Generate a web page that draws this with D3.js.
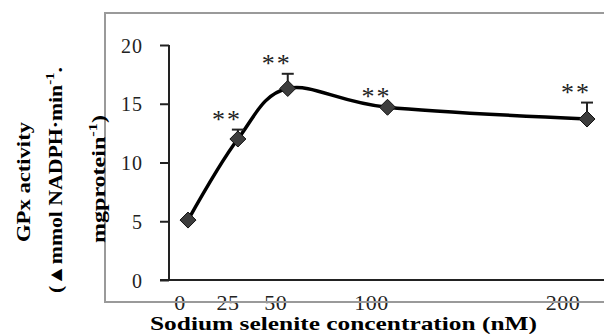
<!DOCTYPE html>
<html><head><meta charset="utf-8">
<script src="https://cdn.jsdelivr.net/npm/d3@7"></script>
<style>html,body{margin:0;padding:0;background:#fff;}svg{display:block;}
text{font-family:"Liberation Serif","Times New Roman","DejaVu Serif",serif;}</style>
</head><body>
<script>
const concentrations = [0, 25, 50, 100, 200];
const gpxActivity = [5.1, 12.0, 16.3, 14.7, 13.7];
const errorPlus = [0.2, 0.8, 1.25, 0.2, 1.4];
const significance = ["", "**", "**", "**", "**"];
const xTickValues = [0, 25, 50, 100, 200];
const yTickValues = [0, 5, 10, 15, 20];
const yTitleLines = ["GPx activity", "(\u25B2mmol NADPH\u00B7min", "mgprotein"];

const W = 604, H = 334;
const svg = d3.select("body").append("svg").attr("width", W).attr("height", H);

const x = d3.scaleLinear().domain([0, 200]).range([188, 587]);
const xLabel = d3.scaleLinear().domain([0, 200]).range([180, 563]);
const y = d3.scaleLinear().domain([0, 20]).range([280, 45]);

// x tick labels (under the frame line, which crosses them)
svg.append("g").selectAll("text").data(xTickValues).join("text")
  .attr("x", d => xLabel(d)).attr("y", 310).attr("text-anchor", "middle")
  .attr("font-size", 22).attr("fill", "#222").attr("letter-spacing", 0.5)
  .text(d => d);

// outer gray frame (no right side)
svg.append("path").attr("d", `M${W},13 H105 V302 H${W}`)
  .attr("fill", "none").attr("stroke", "#9a9a9a").attr("stroke-width", 2);

// y axis
const yAxis = svg.append("g").attr("transform", "translate(169,0)")
  .call(d3.axisLeft(y).tickValues(yTickValues).tickSize(9).tickSizeOuter(0).tickPadding(17));
yAxis.select(".domain").attr("stroke", "#222").attr("stroke-width", 2).attr("d", `M0,${y(20)}V${y(0)}`);
yAxis.selectAll(".tick line").attr("stroke", "#222").attr("stroke-width", 2);
yAxis.selectAll(".tick text").attr("font-family", null).attr("font-size", 20)
  .attr("fill", "#222").attr("letter-spacing", 1).attr("dy", "0.35em");
yAxis.attr("font-family", null);

// x axis line
svg.append("line").attr("x1", 160).attr("x2", W).attr("y1", y(0)).attr("y2", y(0))
  .attr("stroke", "#222").attr("stroke-width", 2);

// x title
svg.append("text").attr("x", 150).attr("y", 330)
  .attr("font-weight", "bold").attr("font-size", 19)
  .attr("textLength", 387).attr("lengthAdjust", "spacingAndGlyphs")
  .text("Sodium selenite concentration (nM)");

// y title lines
const yt = svg.append("g").attr("font-weight", "bold").attr("font-size", 19).attr("text-anchor", "middle");
yt.append("text").attr("transform", "translate(30,182) rotate(-90)")
  .attr("textLength", 120).attr("lengthAdjust", "spacingAndGlyphs").text(yTitleLines[0]);
const t2 = yt.append("text").attr("transform", "translate(62,180) rotate(-90)")
  .attr("textLength", 226).attr("lengthAdjust", "spacingAndGlyphs");
t2.append("tspan").text(yTitleLines[1]);
t2.append("tspan").attr("dy", -8).attr("font-size", 13).text("-1");
t2.append("tspan").attr("dy", 8).text(".");
const t3 = yt.append("text").attr("transform", "translate(105,179) rotate(-90)")
  .attr("textLength", 128).attr("lengthAdjust", "spacingAndGlyphs");
t3.append("tspan").text(yTitleLines[2]);
t3.append("tspan").attr("dy", -8).attr("font-size", 13).text("-1");
t3.append("tspan").attr("dy", 8).text(")");

const data = concentrations.map((c, i) => ({c, v: gpxActivity[i], e: errorPlus[i], s: significance[i]}));

// line
svg.append("path").datum(data)
  .attr("d", d3.line().x(d => x(d.c)).y(d => y(d.v)).curve(d3.curveCardinal.tension(0)))
  .attr("fill", "none").attr("stroke", "#000").attr("stroke-width", 3.5);

// error bars (plus)
const eb = svg.append("g").attr("stroke", "#222").attr("stroke-width", 2);
eb.selectAll("line.v").data(data).join("line")
  .attr("x1", d => x(d.c)).attr("x2", d => x(d.c))
  .attr("y1", d => y(d.v)).attr("y2", d => y(d.v + d.e));
eb.selectAll("line.h").data(data.filter(d => d.e > 0.5)).join("line")
  .attr("x1", d => x(d.c) - 6).attr("x2", d => x(d.c) + 6)
  .attr("y1", d => y(d.v + d.e)).attr("y2", d => y(d.v + d.e));

// markers
svg.append("g").selectAll("path").data(data).join("path")
  .attr("transform", d => `translate(${x(d.c)},${y(d.v)})`)
  .attr("d", "M0,-8L8,0L0,8L-8,0Z")
  .attr("fill", "#3d3d3d").attr("stroke", "#111").attr("stroke-width", 1);

// significance stars
svg.append("g").selectAll("text").data(data.filter(d => d.s)).join("text")
  .attr("x", d => x(d.c) - 11).attr("y", d => y(d.v + (d.e > 0.5 ? d.e : 0)) - 2)
  .attr("text-anchor", "middle").attr("font-size", 26)
  .attr("letter-spacing", 2).attr("fill", "#222").text(d => d.s);
</script>
</body></html>
